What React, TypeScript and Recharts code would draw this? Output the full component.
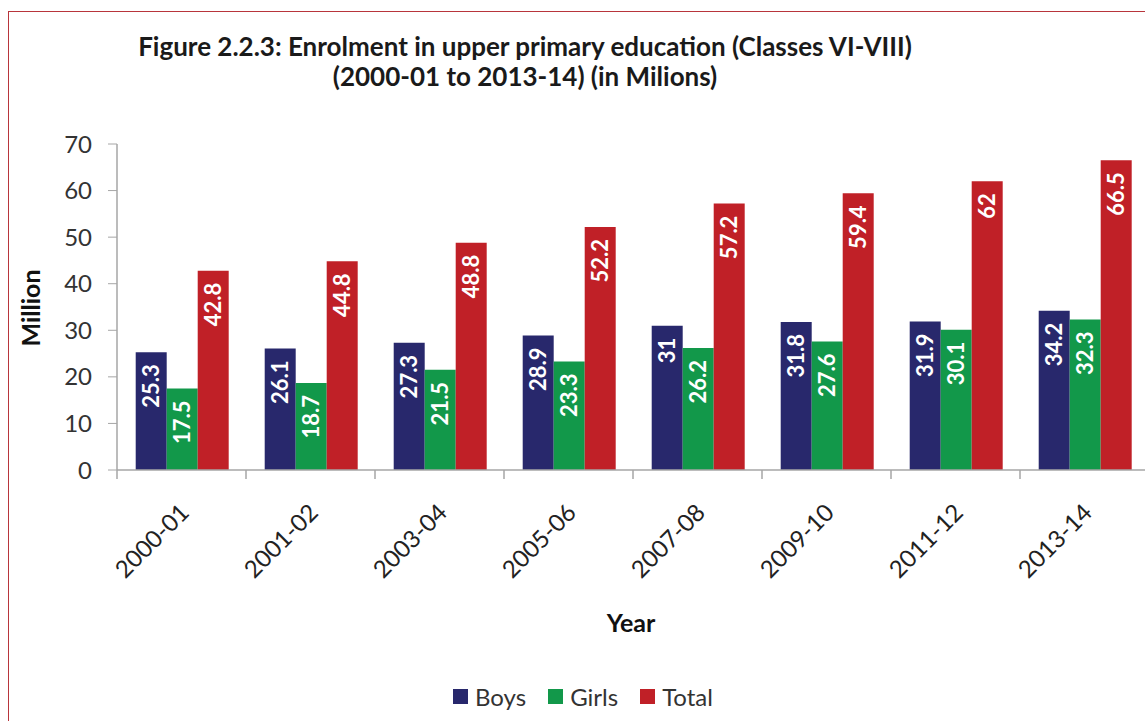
import { Bar, BarChart, LabelList, Legend, XAxis, YAxis } from "recharts";

const years = ["2000-01", "2001-02", "2003-04", "2005-06", "2007-08", "2009-10", "2011-12", "2013-14"];
const boys = [25.3, 26.1, 27.3, 28.9, 31, 31.8, 31.9, 34.2];
const girls = [17.5, 18.7, 21.5, 23.3, 26.2, 27.6, 30.1, 32.3];
const total = [42.8, 44.8, 48.8, 52.2, 57.2, 59.4, 62, 66.5];
const yTicks = [0, 10, 20, 30, 40, 50, 60, 70];

const data = years.map((year, i) => ({ year, boys: boys[i], girls: girls[i], total: total[i] }));

const FONT = "Lato, 'Open Sans', sans-serif";
const AXIS = "#a6a6a6";

function BarValue(props: any) {
  const { x, y, width, value } = props;
  const cx = x + width / 2;
  const cy = y + 12;
  return (
    <text
      x={cx}
      y={cy}
      dy="0.36em"
      transform={`rotate(-90 ${cx} ${cy})`}
      textAnchor="end"
      fill="#fff"
      fontWeight="bold"
      fontSize={22}
      fontFamily={FONT}
    >
      {String(value)}
    </text>
  );
}

// year label plus the divider tick on the left edge of each category band
function YearTick(props: any) {
  const { x, y, payload } = props;
  const edge = x - (payload.offset || 0);
  const px = x + 3;
  const py = y + 38;
  return (
    <g>
      <line x1={edge} x2={edge} y1={y} y2={y + 9} stroke={AXIS} strokeWidth={1.5} />
      <text
        x={px}
        y={py}
        dy="0.36em"
        transform={`rotate(-45 ${px} ${py})`}
        textAnchor="end"
        fill="#222"
        fontSize={24}
        fontFamily={FONT}
      >
        {payload.value}
      </text>
    </g>
  );
}

function LegendRow(props: any) {
  const items = props.payload || [];
  return (
    <div style={{ display: "flex", justifyContent: "center", fontFamily: FONT, fontSize: 24, color: "#333" }}>
      {items.map((it: any, i: number) => (
        <div
          key={it.value}
          style={{ display: "flex", alignItems: "center", marginRight: i < items.length - 1 ? 22 : 0 }}
        >
          <span style={{ width: 15, height: 15, background: it.color, display: "inline-block", marginRight: 7 }} />
          <span>{it.value}</span>
        </div>
      ))}
    </div>
  );
}

export default function App() {
  return (
    <div style={{ position: "fixed", left: 0, top: 0, width: 1145, height: 721, overflow: "hidden", background: "#fff" }}>
      <div
        style={{
          position: "absolute",
          left: 8,
          top: 11,
          width: 1180,
          height: 760,
          borderLeft: "1.5px solid #b8353b",
          borderTop: "1.5px solid #b8353b",
        }}
      />
      <div
        style={{
          position: "absolute",
          left: 25,
          width: 1000,
          top: 31,
          textAlign: "center",
          fontFamily: FONT,
          fontWeight: "bold",
          fontSize: 26,
          lineHeight: "30px",
          color: "#1a1a1a",
        }}
      >
        Figure 2.2.3: Enrolment in upper primary education (Classes VI-VIII)
        <br />
        (2000-01 to 2013-14) (in Milions)
      </div>
      <div
        style={{
          position: "absolute",
          left: 30,
          top: 308,
          transform: "translate(-50%, -50%) rotate(-90deg)",
          fontFamily: FONT,
          fontWeight: "bold",
          fontSize: 25,
          color: "#111",
          whiteSpace: "nowrap",
        }}
      >
        Million
      </div>
      <div
        style={{
          position: "absolute",
          left: 631,
          top: 622,
          transform: "translate(-50%, -50%)",
          fontFamily: FONT,
          fontWeight: "bold",
          fontSize: 25,
          color: "#111",
        }}
      >
        Year
      </div>
      <div style={{ position: "absolute", left: 0, top: 0 }}>
        <BarChart
          width={1200}
          height={721}
          data={data}
          margin={{ top: 144, right: 51, left: 0, bottom: 0 }}
          barCategoryGap="14.5%"
          barGap={0}
        >
          <XAxis
            dataKey="year"
            height={222}
            axisLine={{ stroke: AXIS, strokeWidth: 1.5 }}
            tickLine={false}
            tickSize={0}
            tickMargin={0}
            tick={<YearTick />}
            interval={0}
          />
          <YAxis
            width={117}
            domain={[0, 70]}
            ticks={yTicks}
            axisLine={{ stroke: AXIS, strokeWidth: 1.5 }}
            tickLine={{ stroke: AXIS }}
            tickSize={9}
            tickMargin={16}
            tick={{ fill: "#333", fontSize: 24, fontFamily: FONT }}
          />
          <Legend
            verticalAlign="bottom"
            content={<LegendRow />}
            wrapperStyle={{ left: 8, width: 1150, top: 682 }}
          />
          <Bar dataKey="boys" name="Boys" fill="#28286c" isAnimationActive={false}>
            <LabelList dataKey="boys" content={<BarValue />} />
          </Bar>
          <Bar dataKey="girls" name="Girls" fill="#12984a" isAnimationActive={false}>
            <LabelList dataKey="girls" content={<BarValue />} />
          </Bar>
          <Bar dataKey="total" name="Total" fill="#c02027" isAnimationActive={false}>
            <LabelList dataKey="total" content={<BarValue />} />
          </Bar>
        </BarChart>
      </div>
    </div>
  );
}
